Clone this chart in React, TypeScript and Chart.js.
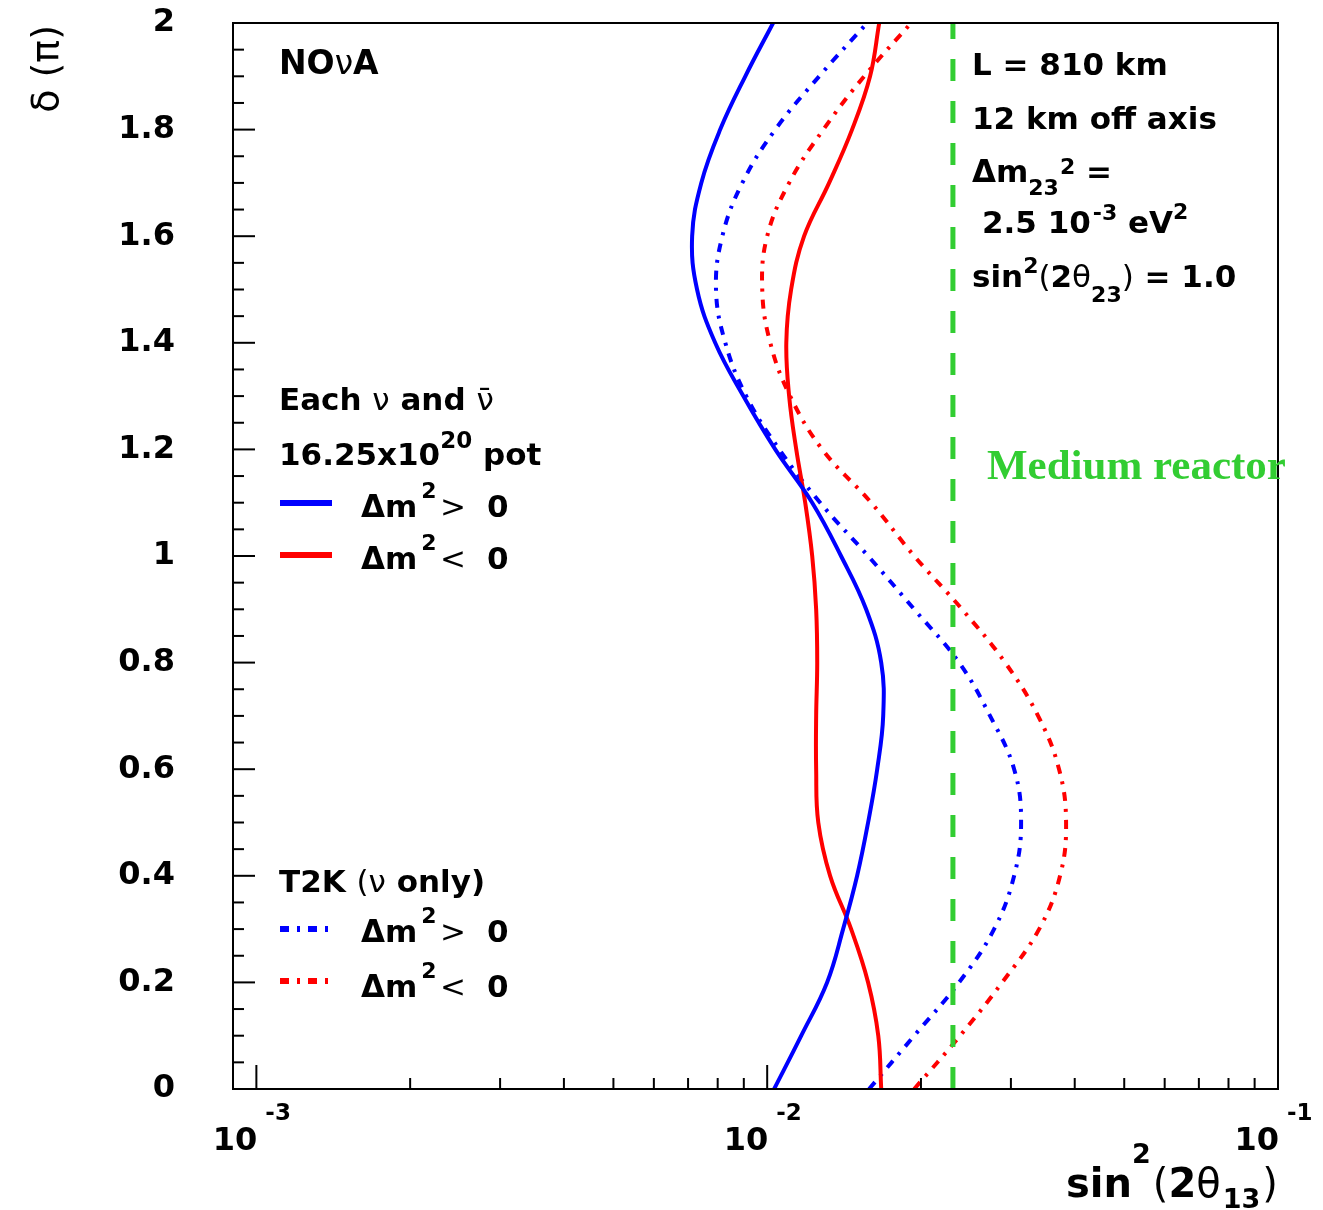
import React, { useEffect, useRef } from "react";
import { Chart, registerables } from "chart.js";

Chart.register(...registerables);

// ---------------- data ----------------
const deltaValues = [0, 0.1, 0.2, 0.3, 0.4, 0.5, 0.6, 0.7, 0.8, 0.9, 1.0, 1.1, 1.2, 1.3, 1.4, 1.5, 1.6, 1.7, 1.8, 1.9, 2.0];

// NOvA, Delta m^2 > 0 (solid blue)
const novaNormal = [0.01032, 0.01166, 0.0131, 0.01408, 0.015, 0.01576, 0.01642, 0.01687, 0.01672, 0.01562, 0.01395, 0.01225, 0.01037, 0.00898, 0.00791, 0.00729, 0.00713, 0.00743, 0.00809, 0.00906, 0.01027];
// NOvA, Delta m^2 < 0 (solid red)
const novaInverted = [0.01672, 0.0165, 0.01576, 0.0146, 0.01328, 0.01259, 0.01247, 0.01247, 0.01253, 0.01247, 0.01225, 0.01187, 0.0114, 0.01104, 0.0109, 0.01114, 0.01181, 0.01322, 0.01466, 0.0159, 0.01657];
// T2K, Delta m^2 > 0 (dash-dot blue)
const t2kNormal = [0.01583, 0.0194, 0.02375, 0.02781, 0.03044, 0.03141, 0.03044, 0.02731, 0.02375, 0.0194, 0.01576, 0.0127, 0.01056, 0.0091, 0.00828, 0.00794, 0.00817, 0.00894, 0.01037, 0.01264, 0.01569];
// T2K, Delta m^2 < 0 (dash-dot red)
const t2kInverted = [0.0194, 0.02386, 0.02884, 0.03407, 0.03744, 0.03847, 0.03727, 0.03391, 0.02923, 0.02407, 0.0194, 0.01598, 0.01282, 0.01109, 0.01014, 0.00978, 0.01, 0.01104, 0.01288, 0.01548, 0.01913];

// medium reactor sensitivity
const reactorLimit = 0.0231;
const reactorDelta = [0, 2];

// axes
const xMin = 0.0009;
const xMax = 0.1;
const xTickValues = [0.001, 0.01, 0.1];
const xTickExponents = ["-3", "-2", "-1"];
const xMinorMultipliers = [2, 3, 4, 5, 6, 7, 8, 9];
const yTickValues = [0, 0.2, 0.4, 0.6, 0.8, 1, 1.2, 1.4, 1.6, 1.8, 2];
const yTickLabels = ["0", "0.2", "0.4", "0.6", "0.8", "1", "1.2", "1.4", "1.6", "1.8", "2"];

const BLUE = "#0000ff";
const RED = "#ff0000";
const GREEN = "#32cd32";
const DASHDOT = [9, 8, 3, 8];
const FONT = '"DejaVu Sans"';

type Seg = { t: string; size?: number; bold?: boolean; dy?: number; x?: number; gap?: number; family?: string };

function drawRich(ctx: CanvasRenderingContext2D, x: number, y: number, segs: Seg[], base = 31, color = "#000") {
  let cx = x;
  ctx.fillStyle = color;
  ctx.textAlign = "left";
  ctx.textBaseline = "alphabetic";
  for (const s of segs) {
    if (s.x !== undefined) cx = s.x;
    cx += s.gap || 0;
    const size = s.size ?? base;
    const weight = s.bold === false ? "normal" : "bold";
    ctx.font = `${weight} ${size}px ${s.family ?? FONT}`;
    ctx.fillText(s.t, cx, y + (s.dy || 0));
    cx += ctx.measureText(s.t).width;
  }
}

const overlayPlugin = {
  id: "overlay",
  afterDraw(chart: any) {
    const ctx: CanvasRenderingContext2D = chart.ctx;
    const { left, right, top, bottom } = chart.chartArea;
    const xs = chart.scales.x;
    const ys = chart.scales.y;
    ctx.save();

    // frame
    ctx.strokeStyle = "#000";
    ctx.lineWidth = 2;
    ctx.setLineDash([]);
    ctx.strokeRect(left, top, right - left, bottom - top);

    // y ticks (inward)
    for (let k = 0; k <= 40; k++) {
      const v = k * 0.05;
      const py = ys.getPixelForValue(v);
      const major = k % 4 === 0;
      ctx.beginPath();
      ctx.moveTo(left, py);
      ctx.lineTo(left + (major ? 22 : 11), py);
      ctx.stroke();
    }
    // x ticks (inward)
    for (const v of xTickValues) {
      const px = xs.getPixelForValue(v);
      ctx.beginPath();
      ctx.moveTo(px, bottom);
      ctx.lineTo(px, bottom - 24);
      ctx.stroke();
    }
    for (const dec of [0.001, 0.01]) {
      for (const m of xMinorMultipliers) {
        const px = xs.getPixelForValue(dec * m);
        ctx.beginPath();
        ctx.moveTo(px, bottom);
        ctx.lineTo(px, bottom - 11);
        ctx.stroke();
      }
    }

    // x tick labels 10^n
    xTickValues.forEach((v, i) => {
      const px = xs.getPixelForValue(v);
      ctx.fillStyle = "#000";
      ctx.font = `bold 32px ${FONT}`;
      ctx.textAlign = "right";
      ctx.textBaseline = "alphabetic";
      ctx.fillText("10", px + 1, 1150);
      ctx.font = `bold 23px ${FONT}`;
      ctx.textAlign = "left";
      ctx.fillText(xTickExponents[i], px + 9, 1120);
    });

    // axis titles
    drawRich(ctx, 1066, 1197, [
      { t: "sin", size: 40 },
      { t: "2", size: 27, dy: -34 },
      { t: "(", size: 40, bold: false, gap: 2 },
      { t: "2", size: 40 },
      { t: "θ", size: 40, bold: false },
      { t: "13", size: 27, dy: 11, gap: 2 },
      { t: ")", size: 40, bold: false, gap: 2 },
    ]);

    ctx.save();
    ctx.translate(58, 25);
    ctx.rotate(-Math.PI / 2);
    ctx.font = `normal 38px ${FONT}`;
    ctx.fillStyle = "#000";
    ctx.textAlign = "right";
    ctx.textBaseline = "alphabetic";
    ctx.fillText("δ (π)", 0, 0);
    ctx.restore();

    // annotations
    drawRich(ctx, 279, 74, [{ t: "NO", size: 33 }, { t: "ν", size: 33, bold: false }, { t: "A", size: 33 }]);
    drawRich(ctx, 972, 75, [{ t: "L = 810 km" }]);
    drawRich(ctx, 972, 129, [{ t: "12 km off axis" }]);
    drawRich(ctx, 972, 182, [
      { t: "Δm" },
      { t: "23", size: 22, dy: 13 },
      { t: "2", size: 22, dy: -8, gap: 1 },
      { t: " =" },
    ]);
    drawRich(ctx, 982, 233, [
      { t: "2.5 10" },
      { t: "-3", size: 22, dy: -13, gap: 2 },
      { t: " eV" },
      { t: "2", size: 22, dy: -14 },
    ]);
    drawRich(ctx, 972, 287, [
      { t: "sin" },
      { t: "2", size: 22, dy: -14 },
      { t: "(", bold: false },
      { t: "2" },
      { t: "θ", bold: false },
      { t: "23", size: 22, dy: 15 },
      { t: ")", bold: false },
      { t: " = 1.0" },
    ]);

    drawRich(ctx, 279, 410, [
      { t: "Each " },
      { t: "ν", bold: false },
      { t: " and " },
      { t: "ν̄", bold: false },
    ]);
    drawRich(ctx, 279, 465, [
      { t: "16.25x10" },
      { t: "20", size: 23, dy: -17 },
      { t: " pot" },
    ]);
    drawRich(ctx, 279, 892, [
      { t: "T2K " },
      { t: "(", bold: false },
      { t: "ν", bold: false },
      { t: " only)" },
    ]);

    // legend
    const legendRows = [
      { ds: 1, y: 503, sign: ">", base: 517 },
      { ds: 2, y: 555, sign: "<", base: 569 },
      { ds: 3, y: 929, sign: ">", base: 942 },
      { ds: 4, y: 981, sign: "<", base: 997 },
    ];
    for (const row of legendRows) {
      const ds = chart.data.datasets[row.ds];
      ctx.save();
      ctx.strokeStyle = ds.borderColor;
      ctx.lineWidth = 6;
      ctx.setLineDash(ds.borderDash || []);
      ctx.beginPath();
      ctx.moveTo(280, row.y);
      ctx.lineTo(332, row.y);
      ctx.stroke();
      ctx.restore();
      drawRich(ctx, 361, row.base, [
        { t: "Δm" },
        { t: "2", size: 22, dy: -19, gap: 4 },
        { t: row.sign, bold: false, x: 440 },
        { t: "0", x: 487 },
      ]);
    }

    // medium reactor label
    drawRich(ctx, 987, 479, [{ t: "Medium reactor", size: 43, family: '"Liberation Serif"' }], 43, GREEN);

    ctx.restore();
  },
};

export default function App() {
  const canvasRef = useRef<HTMLCanvasElement | null>(null);

  useEffect(() => {
    if (!canvasRef.current) return;
    const toPts = (vals: number[]) => deltaValues.map((d, i) => ({ x: vals[i], y: d }));
    const common = { pointRadius: 0, showLine: true, fill: false, tension: 0.4, borderWidth: 4 };
    const chart = new Chart(canvasRef.current, {
      type: "scatter",
      data: {
        datasets: [
          {
            label: "Medium reactor",
            data: reactorDelta.map((d) => ({ x: reactorLimit, y: d })),
            borderColor: GREEN,
            borderWidth: 5,
            borderDash: [22, 20],
            pointRadius: 0,
            showLine: true,
            tension: 0,
            order: 0,
          },
          { label: "NOvA Δm² > 0", data: toPts(novaNormal), borderColor: BLUE, ...common, order: 1 },
          { label: "NOvA Δm² < 0", data: toPts(novaInverted), borderColor: RED, ...common, order: 1 },
          { label: "T2K Δm² > 0", data: toPts(t2kNormal), borderColor: BLUE, borderDash: DASHDOT, ...common, order: 2 },
          { label: "T2K Δm² < 0", data: toPts(t2kInverted), borderColor: RED, borderDash: DASHDOT, ...common, order: 2 },
        ] as any,
      },
      options: {
        animation: false,
        responsive: false,
        devicePixelRatio: 1,
        events: [],
        layout: { padding: { top: 23, right: 45, left: 0, bottom: 0 } },
        plugins: { legend: { display: false }, tooltip: { enabled: false } },
        scales: {
          x: {
            type: "logarithmic",
            min: xMin,
            max: xMax,
            grid: { display: false, drawTicks: false },
            border: { display: false },
            ticks: { display: false },
            afterBuildTicks: (scale: any) => {
              scale.ticks = xTickValues.map((v) => ({ value: v }));
            },
            afterFit: (scale: any) => {
              scale.height = 121;
            },
          },
          y: {
            type: "linear",
            min: 0,
            max: 2,
            grid: { display: false, drawTicks: true, tickLength: 58, tickColor: "rgba(0,0,0,0)" },
            border: { display: false },
            afterBuildTicks: (scale: any) => {
              scale.ticks = yTickValues.map((v) => ({ value: v }));
            },
            ticks: {
              autoSkip: false,
              padding: 0,
              color: "#000",
              font: { family: "DejaVu Sans", size: 32, weight: "bold" },
              callback: (value: any) => {
                const i = yTickValues.indexOf(Number(value));
                return i >= 0 ? yTickLabels[i] : "";
              },
            },
            afterFit: (scale: any) => {
              scale.width = 233;
            },
          },
        },
      } as any,
      plugins: [overlayPlugin],
    });
    return () => chart.destroy();
  }, []);

  return (
    <div style={{ position: "absolute", left: 0, top: 0, width: 1323, height: 1210, background: "#fff" }}>
      <canvas ref={canvasRef} width={1323} height={1210} style={{ display: "block", width: 1323, height: 1210 }} />
    </div>
  );
}
